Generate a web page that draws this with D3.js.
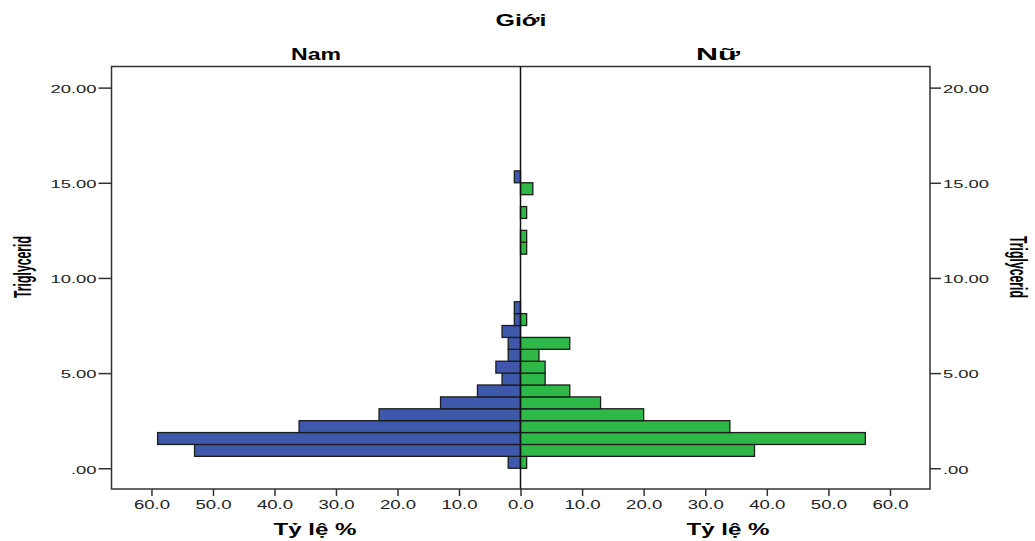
<!DOCTYPE html>
<html>
<head>
<meta charset="utf-8">
<script src="https://cdn.jsdelivr.net/npm/d3@7"></script>
<style>
  html, body { margin: 0; padding: 0; background: #fff; }
  svg { display: block; }
</style>
</head>
<body>
<svg id="chart" width="1035" height="541"></svg>
<script>
// ---- data ----
const binLow  = [0.000, 0.625, 1.250, 1.875, 2.500, 3.125, 3.750, 4.375, 5.000, 5.625,
                 6.250, 6.875, 7.500, 8.125, 8.750, 9.375, 10.000, 10.625, 11.250, 11.875,
                 12.500, 13.125, 13.750, 14.375, 15.000];
const binWidth = 0.625;
const namValues = [2, 53, 59, 36, 23, 13, 7, 3, 4, 2, 2, 3, 1, 1, 0, 0, 0, 0, 0, 0, 0, 0, 0, 0, 1];
const nuValues  = [1, 38, 56, 34, 20, 13, 8, 4, 4, 3, 8, 0, 1, 0, 0, 0, 0, 0, 1, 1, 0, 1, 0, 2, 0];
const yTicks = [0, 5, 10, 15, 20];
const yTickLabels = [".00", "5.00", "10.00", "15.00", "20.00"];
const xTicks = [0, 10, 20, 30, 40, 50, 60];
const xTickLabels = ["0.0", "10.0", "20.0", "30.0", "40.0", "50.0", "60.0"];
const groupTitle = "Giới";
const panelTitles = ["Nam", "Nữ"];
const xTitle = "Tỷ lệ %";
const yTitle = "Triglycerid";

// ---- layout ----
const L = 111.5, R = 930, T = 66.5, B = 489, C = 520.5;
const svg = d3.select("#chart");
const FONT = "'Liberation Sans', Arial, sans-serif";

const y = d3.scaleLinear().domain([-1.09, 21.11]).range([B, T]);
const xL = d3.scaleLinear().domain([0, 66.5]).range([C, L]);
const xR = d3.scaleLinear().domain([0, 66.5]).range([C, R]);

function stretch(sel, sx) {
  sel.each(function () {
    const w = this.getComputedTextLength();
    this.setAttribute("textLength", w * sx);
    this.setAttribute("lengthAdjust", "spacingAndGlyphs");
  });
}
function fixLength(sel, len) {
  sel.attr("textLength", len).attr("lengthAdjust", "spacingAndGlyphs");
}

const bins = binLow.map((b, i) => ({ low: b, nam: namValues[i], nu: nuValues[i] }));

// bars - Nam (left, blue)
svg.append("g").selectAll("rect")
  .data(bins.filter(d => d.nam > 0))
  .join("rect")
  .attr("x", d => xL(d.nam))
  .attr("y", d => y(d.low + binWidth))
  .attr("width", d => xL(0) - xL(d.nam))
  .attr("height", d => y(d.low) - y(d.low + binWidth))
  .attr("fill", "#3e58ac")
  .attr("stroke", "#1c1c1c")
  .attr("stroke-width", 1.3);

// bars - Nữ (right, green)
svg.append("g").selectAll("rect")
  .data(bins.filter(d => d.nu > 0))
  .join("rect")
  .attr("x", xR(0))
  .attr("y", d => y(d.low + binWidth))
  .attr("width", d => xR(d.nu) - xR(0))
  .attr("height", d => y(d.low) - y(d.low + binWidth))
  .attr("fill", "#2eb848")
  .attr("stroke", "#1c1c1c")
  .attr("stroke-width", 1.3);

// frame
svg.append("rect")
  .attr("x", L).attr("y", T).attr("width", R - L).attr("height", B - T)
  .attr("fill", "none").attr("stroke", "#333").attr("stroke-width", 1.5);
// center line
svg.append("line")
  .attr("x1", C).attr("x2", C).attr("y1", T).attr("y2", B)
  .attr("stroke", "#111").attr("stroke-width", 1.5);

// y axes
const yFmt = d => yTickLabels[yTicks.indexOf(d)];
const yl = svg.append("g").attr("transform", `translate(${L},0)`)
  .call(d3.axisLeft(y).tickValues(yTicks).tickFormat(yFmt).tickSize(13).tickPadding(2).tickSizeOuter(0));
const yr = svg.append("g").attr("transform", `translate(${R},0)`)
  .call(d3.axisRight(y).tickValues(yTicks).tickFormat(yFmt).tickSize(11).tickPadding(2).tickSizeOuter(0));
[yl, yr].forEach(g => {
  g.select(".domain").remove();
  g.selectAll(".tick line").attr("stroke", "#333").attr("stroke-width", 1.5);
  g.selectAll(".tick text").attr("font-family", FONT).attr("font-size", 11.5)
    .attr("fill", "#222").attr("dy", "0.42em");
  stretch(g.selectAll(".tick text"), 1.6);
});

// x axes
const xFmt = d => xTickLabels[xTicks.indexOf(d)];
const xl = svg.append("g").attr("transform", `translate(0,${B})`)
  .call(d3.axisBottom(xL).tickValues(xTicks).tickFormat(xFmt).tickSize(7).tickPadding(4).tickSizeOuter(0));
const xr = svg.append("g").attr("transform", `translate(0,${B})`)
  .call(d3.axisBottom(xR).tickValues(xTicks.slice(1)).tickFormat(xFmt).tickSize(7).tickPadding(4).tickSizeOuter(0));
[xl, xr].forEach(g => {
  g.select(".domain").remove();
  g.selectAll(".tick line").attr("stroke", "#333").attr("stroke-width", 1.5);
  g.selectAll(".tick text").attr("font-family", FONT).attr("font-size", 12).attr("fill", "#222");
  stretch(g.selectAll(".tick text"), 1.55);
});

// titles
svg.append("text").attr("x", 521).attr("y", 26).attr("text-anchor", "middle")
  .attr("font-family", FONT).attr("font-weight", "bold").attr("font-size", 16)
  .text(groupTitle).call(fixLength, 51);
svg.append("text").attr("x", 316).attr("y", 60).attr("text-anchor", "middle")
  .attr("font-family", FONT).attr("font-weight", "bold").attr("font-size", 16)
  .text(panelTitles[0]).call(fixLength, 50);
svg.append("text").attr("x", 718).attr("y", 60).attr("text-anchor", "middle")
  .attr("font-family", FONT).attr("font-weight", "bold").attr("font-size", 16)
  .text(panelTitles[1]).call(fixLength, 44);

[315, 728].forEach(cx => {
  svg.append("text").attr("x", cx).attr("y", 535).attr("text-anchor", "middle")
    .attr("font-family", FONT).attr("font-weight", "bold").attr("font-size", 16)
    .text(xTitle).call(fixLength, 83);
});

// rotated y titles
svg.append("g").attr("transform", "translate(22,267) scale(1.3,1) rotate(-90)")
  .append("text").attr("text-anchor", "middle").attr("dy", "0.36em")
  .attr("font-family", FONT).attr("font-weight", "bold").attr("font-size", 19)
  .text(yTitle).call(fixLength, 62);
svg.append("g").attr("transform", "translate(1019,267) scale(1.3,1) rotate(90)")
  .append("text").attr("text-anchor", "middle").attr("dy", "0.36em")
  .attr("font-family", FONT).attr("font-weight", "bold").attr("font-size", 19)
  .text(yTitle).call(fixLength, 62);
</script>
</body>
</html>
